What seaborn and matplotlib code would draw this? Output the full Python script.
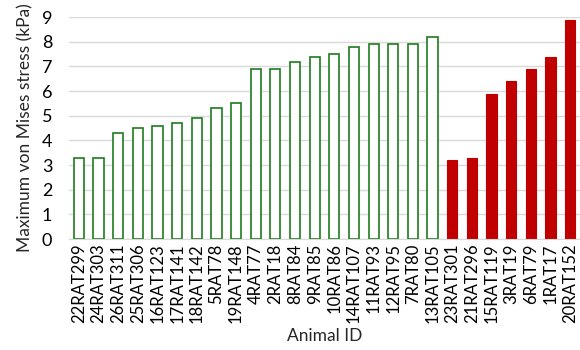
import matplotlib
matplotlib.use("Agg")
import matplotlib.pyplot as plt
import matplotlib.colors as mcolors
import seaborn as sns
import pandas as pd

# ─── Data ────────────────────────────────────────────────────────────────────
animals_ok = ["22RAT299", "24RAT303", "26RAT311", "25RAT306", "16RAT123",
              "17RAT141", "18RAT142", "5RAT78", "19RAT148", "4RAT77", "2RAT18",
              "8RAT84", "9RAT85", "10RAT86", "14RAT107", "11RAT93", "12RAT95",
              "7RAT80", "13RAT105"]
stress_ok = [3.3, 3.3, 4.3, 4.5, 4.6, 4.7, 4.9, 5.3, 5.5, 6.9, 6.9,
             7.2, 7.4, 7.5, 7.8, 7.9, 7.9, 7.9, 8.2]

animals_high = ["23RAT301", "21RAT296", "15RAT119", "3RAT19", "6RAT79",
                "1RAT17", "20RAT152"]
stress_high = [3.2, 3.3, 5.9, 6.4, 6.9, 7.4, 8.9]

GREEN = "#1e7b1e"
RED   = "#c00000"

df = pd.DataFrame({
    "animal": animals_ok + animals_high,
    "stress": stress_ok + stress_high,
    "group":  ["ok"] * len(animals_ok) + ["high"] * len(animals_high),
})

# ─── Plot ────────────────────────────────────────────────────────────────────
sns.set_style("white")
plt.rcParams["font.family"] = ["Lato", "DejaVu Sans"]

fig = plt.figure(figsize=(5.8, 3.5), dpi=100)
ax = fig.add_axes([0.119, 0.317, 0.881, 0.634])

sns.barplot(data=df, x="animal", y="stress", hue="group",
            palette={"ok": GREEN, "high": RED}, dodge=False, saturation=1,
            width=0.52, legend=False, ax=ax)

green_rgba = mcolors.to_rgba(GREEN)
for patch in ax.patches:
    if all(abs(a - b) < 0.02 for a, b in zip(patch.get_facecolor(), green_rgba)):
        patch.set_facecolor("white")        # green group -> outline only
        patch.set_edgecolor(GREEN)
        patch.set_linewidth(1.2)
    else:
        patch.set_edgecolor(RED)
        patch.set_linewidth(0.8)

ax.set_ylim(0, 9)
ax.set_xlim(-0.5, len(df) - 0.5)
ax.set_yticks(range(0, 10))
ax.yaxis.grid(True, color="#d9d9d9", linewidth=1)
ax.set_axisbelow(True)
for s in ["top", "right", "left"]:
    ax.spines[s].set_visible(False)
ax.spines["bottom"].set_color("#d9d9d9")

ax.tick_params(axis="both", length=0, colors="#000000")
ax.tick_params(axis="x", rotation=90, pad=3, labelsize=12)
ax.tick_params(axis="y", labelsize=13, pad=12)

ax.set_xlabel("Animal ID", fontsize=12.5, labelpad=4)
ax.set_ylabel("Maximum von Mises stress (kPa)", fontsize=12.5, labelpad=6)

fig.savefig("out.png", dpi=100)
plt.close(fig)
